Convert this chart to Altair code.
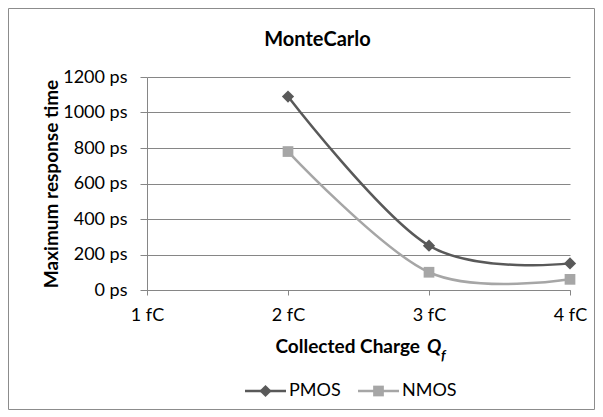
import altair as alt
import pandas as pd

# ---- data ----
series = ["PMOS", "NMOS"]
charges = [2, 3, 4]                 # fC
pmos_time = [1090, 250, 150]        # ps
nmos_time = [780, 100, 60]          # ps
x_ticks = [1, 2, 3, 4]
y_ticks = [0, 200, 400, 600, 800, 1000, 1200]
series_colors = ["#595959", "#a6a6a6"]
series_shapes = ["diamond", "square"]
series_sizes = [150, 115]
chart_title = "MonteCarlo"

df = pd.DataFrame({
    "charge": charges + charges,
    "time": pmos_time + nmos_time,
    "series": [series[0]] * len(charges) + [series[1]] * len(charges),
})
one = pd.DataFrame({"k": [0]})

FONT = "Lato"
W, H = 423, 213
GRID = "#868686"

x_enc = alt.X(
    "charge:Q",
    scale=alt.Scale(domain=[1, 4], nice=False, zero=False),
    axis=alt.Axis(
        values=x_ticks, labelExpr="datum.value + ' fC'", title=None, grid=False,
        tickSize=5, labelPadding=11, labelFontSize=18, labelFont=FONT,
        labelColor="#000000", domainColor=GRID, tickColor=GRID, labelFlush=False,
        labelOverlap=False,
    ),
)
y_enc = alt.Y(
    "time:Q",
    scale=alt.Scale(domain=[0, 1200], nice=False),
    axis=alt.Axis(
        values=y_ticks, tickCount=7, labelExpr="datum.value + ' ps'",
        title="Maximum response time", titleFont=FONT, titleFontSize=19,
        titleFontWeight="bold", titleColor="#000000", titleX=-90, titleY=H / 2,
        titleBaseline="alphabetic", titleAngle=270,
        tickSize=7, labelPadding=13, labelFontSize=18, labelFont=FONT,
        labelColor="#000000", domainColor=GRID, tickColor=GRID,
        grid=True, gridColor=GRID, gridWidth=1, labelOverlap=False,
    ),
)
color_enc = alt.Color("series:N", scale=alt.Scale(domain=series, range=series_colors), legend=None)
shape_enc = alt.Shape("series:N", scale=alt.Scale(domain=series, range=series_shapes), legend=None)
size_enc = alt.Size("series:N", scale=alt.Scale(domain=series, range=series_sizes), legend=None)

lines = alt.Chart(df).mark_line(interpolate="cardinal", tension=0, strokeWidth=2.5).encode(
    x=x_enc, y=y_enc, color=color_enc, detail="series:N"
)
points = alt.Chart(df).mark_point(filled=True, opacity=1).encode(
    x=x_enc, y=y_enc, color=color_enc, shape=shape_enc, size=size_enc
)

# ---- chart title ----
title = alt.Chart(one).mark_text(text=chart_title, font=FONT, fontSize=20, fontWeight="bold",
                                 align="center", baseline="alphabetic", color="#000000").encode(
    x=alt.value(170.5), y=alt.value(-31))

# ---- x-axis title with italic subscript ----
xt1 = alt.Chart(one).mark_text(text="Collected Charge", font=FONT, fontSize=19, fontWeight="bold",
                               align="right", baseline="alphabetic", color="#000000").encode(
    x=alt.value(273), y=alt.value(276))
xt2 = alt.Chart(one).mark_text(text="Q", font=FONT, fontSize=19, fontWeight="bold", fontStyle="italic",
                               align="left", baseline="alphabetic", color="#000000").encode(
    x=alt.value(280), y=alt.value(276))
xt3 = alt.Chart(one).mark_text(text="f", font=FONT, fontSize=14, fontWeight="bold", fontStyle="italic",
                               align="left", baseline="alphabetic", color="#000000").encode(
    x=alt.value(294), y=alt.value(283))

# ---- legend (line + marker + label) ----
leg = []
leg_x = [98, 211]
for i, s in enumerate(series):
    x0 = leg_x[i]
    leg.append(alt.Chart(one).mark_rule(color=series_colors[i], strokeWidth=2.5).encode(
        x=alt.value(x0), x2=alt.value(x0 + 41), y=alt.value(314)))
    leg.append(alt.Chart(one).mark_point(shape=series_shapes[i], filled=True, opacity=1,
                                         size=series_sizes[i], color=series_colors[i]).encode(
        x=alt.value(x0 + 20.5), y=alt.value(314)))
    leg.append(alt.Chart(one).mark_text(text=s, font=FONT, fontSize=18, align="left",
                                        baseline="middle", color="#000000").encode(
        x=alt.value(x0 + 44), y=alt.value(314)))

border = alt.Chart(one).mark_rect(fillOpacity=0, stroke="#8c8c8c", strokeWidth=1).encode(
    x=alt.value(-138.5), x2=alt.value(W + 24.5), y=alt.value(-68.5), y2=alt.value(H + 119.5))

chart = alt.layer(border, lines, points, title, xt1, xt2, xt3, *leg).properties(
    width=W, height=H,
    autosize=alt.AutoSizeParams(type="none"),
    padding={"left": 139, "top": 69, "right": 25, "bottom": 120},
    background="white",
).configure_view(strokeWidth=0)

chart.save("out.html", embed_options={"renderer": "svg", "actions": False})
